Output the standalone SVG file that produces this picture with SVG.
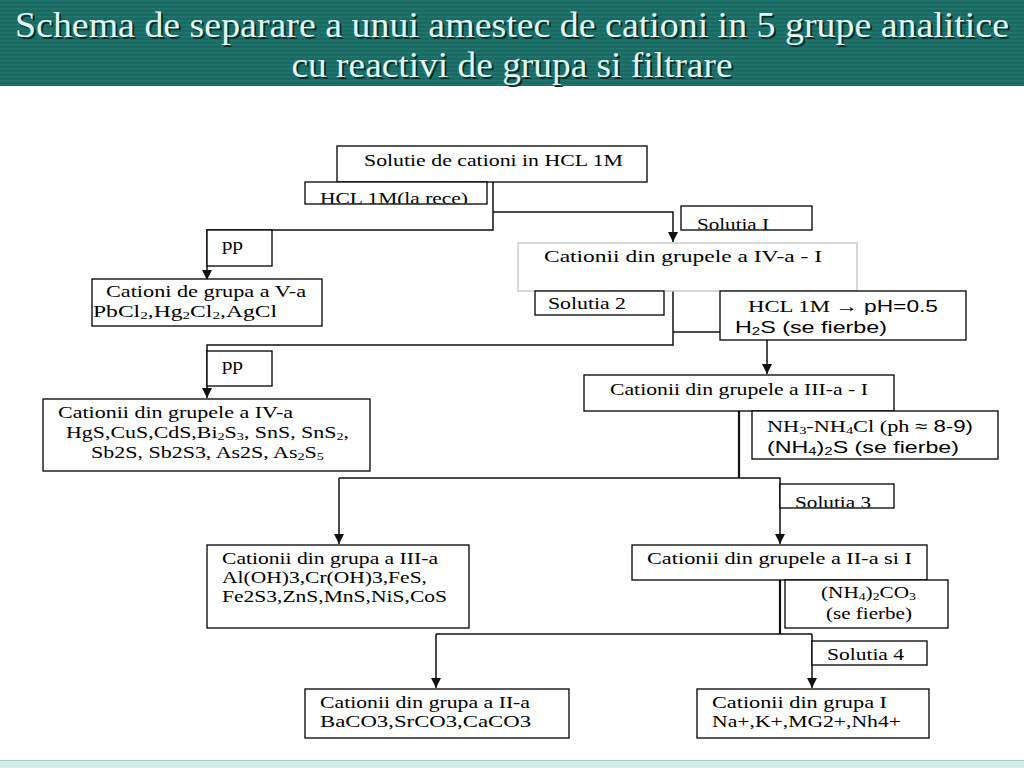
<svg xmlns="http://www.w3.org/2000/svg" width="1024" height="768" viewBox="0 0 1024 768">
<style>
.box{fill:#fff;stroke:#000;stroke-width:1.3}
.gbox{fill:#fff;stroke:#c4c4c4;stroke-width:1.3}
.t{font-family:"Liberation Serif","Times New Roman",serif;font-size:17px;fill:#000}
.s{font-family:"Liberation Sans",Arial,sans-serif}
.sub{font-size:11px}
.c{fill:none;stroke:#111;stroke-width:1.5}
.ck{fill:none;stroke:#111;stroke-width:2.2}
.ttl{font-family:"Liberation Serif","Times New Roman",serif;font-size:36px;fill:#e2f7f2}
.tsh{font-family:"Liberation Serif","Times New Roman",serif;font-size:36px;fill:#062e2a}
</style>
<defs>
<pattern id="stripes" width="4" height="4" patternUnits="userSpaceOnUse">
<rect width="4" height="4" fill="#1a6962"/>
<rect y="0" width="4" height="1.5" fill="#21756d"/>
</pattern>
<marker id="ar" markerUnits="userSpaceOnUse" markerWidth="10" markerHeight="10" refX="10" refY="5" orient="auto">
<path d="M0,0 L10,5 L0,10 z" fill="#111"/>
</marker>
<clipPath id="cl1"><rect x="305" y="182" width="182" height="21.5"/></clipPath>
<clipPath id="cl2"><rect x="681" y="206" width="131" height="23.5"/></clipPath>
<clipPath id="cl3"><rect x="780" y="484" width="114" height="23.5"/></clipPath>
</defs>
<rect width="1024" height="768" fill="#fff"/>
<g id="title">
<rect x="0" y="0" width="1024" height="86" fill="url(#stripes)"/>
<text class="tsh" x="514" y="39" text-anchor="middle" textLength="994" lengthAdjust="spacingAndGlyphs">Schema de separare a unui amestec de cationi in 5 grupe analitice</text>
<text class="ttl" x="512" y="37" text-anchor="middle" textLength="994" lengthAdjust="spacingAndGlyphs">Schema de separare a unui amestec de cationi in 5 grupe analitice</text>
<text class="tsh" x="514" y="79" text-anchor="middle" textLength="441" lengthAdjust="spacingAndGlyphs">cu reactivi de grupa si filtrare</text>
<text class="ttl" x="512" y="77" text-anchor="middle" textLength="441" lengthAdjust="spacingAndGlyphs">cu reactivi de grupa si filtrare</text>
</g>
<rect x="0" y="760" width="1024" height="8" fill="#d6ecea"/>
<line x1="0" y1="760.5" x2="1024" y2="760.5" stroke="#9ccbc5" stroke-width="1"/>

<g id="connectors">
<polyline class="c" points="493,182 493,230 207,230 207,280" marker-end="url(#ar)"/>
<polyline class="c" points="493,212 673,212 673,242" marker-end="url(#ar)"/>
<polyline class="c" points="673,291 673,345 207,345 207,398" marker-end="url(#ar)"/>
<line class="c" x1="673" y1="332" x2="720" y2="332"/>
<line class="c" x1="767" y1="340" x2="767" y2="374" marker-end="url(#ar)"/>
<line class="ck" x1="739" y1="411" x2="739" y2="478"/>
<polyline class="c" points="339,478 780,478 780,544" marker-end="url(#ar)"/>
<line class="c" x1="339" y1="478" x2="339" y2="544" marker-end="url(#ar)"/>
<line class="ck" x1="780" y1="580" x2="780" y2="634"/>
<polyline class="c" points="436,634 812,634"/>
<line class="c" x1="436" y1="634" x2="436" y2="688" marker-end="url(#ar)"/>
<line class="c" x1="812" y1="634" x2="812" y2="688" marker-end="url(#ar)"/>
</g>

<g id="n-solutie">
<rect class="box" x="337" y="146" width="310" height="36"/>
<text class="t" x="364" y="166" textLength="259" lengthAdjust="spacingAndGlyphs">Solutie de cationi in HCL 1M</text>
</g>
<g id="n-hcl-rece">
<rect class="box" x="305" y="182" width="182" height="22"/>
<text class="t" x="320" y="204" textLength="148" lengthAdjust="spacingAndGlyphs" clip-path="url(#cl1)">HCL 1M(la rece)</text>
</g>
<g id="n-solutia1">
<rect class="box" x="681" y="206" width="131" height="24"/>
<text class="t" x="697" y="230" textLength="72" lengthAdjust="spacingAndGlyphs" clip-path="url(#cl2)">Solutia I</text>
</g>
<g id="n-pp1">
<rect class="box" x="207" y="230" width="65" height="36"/>
<text class="t" x="222" y="250" textLength="21" lengthAdjust="spacingAndGlyphs">pp</text>
</g>
<g id="n-iv-i">
<rect class="gbox" x="518" y="243" width="339" height="48"/>
<text class="t" x="544" y="262" textLength="278" lengthAdjust="spacingAndGlyphs">Cationii din grupele a IV-a - I</text>
</g>
<g id="n-v">
<rect class="box" x="92" y="279" width="230" height="47"/>
<text class="t" x="106" y="297" textLength="200" lengthAdjust="spacingAndGlyphs">Cationi de grupa a V-a</text>
<text class="t" x="93" y="317" textLength="184" lengthAdjust="spacingAndGlyphs">PbCl<tspan class="sub" dy="2">2</tspan><tspan dy="-2">,Hg</tspan><tspan class="sub" dy="2">2</tspan><tspan dy="-2">Cl</tspan><tspan class="sub" dy="2">2</tspan><tspan dy="-2">,AgCl</tspan></text>
</g>
<g id="n-solutia2">
<rect class="box" x="535" y="291" width="129" height="24"/>
<text class="t" x="548" y="309" textLength="78" lengthAdjust="spacingAndGlyphs">Solutia 2</text>
</g>
<g id="n-hcl-ph">
<rect class="box" x="720" y="291" width="246" height="49"/>
<text class="t" x="748" y="312" textLength="190" lengthAdjust="spacingAndGlyphs">HCL 1M → <tspan class="s">pH=0.5</tspan></text>
<text class="t s" x="735" y="333" textLength="152" lengthAdjust="spacingAndGlyphs">H<tspan class="sub" dy="2">2</tspan><tspan dy="-2">S (se fierbe)</tspan></text>
</g>
<g id="n-pp2">
<rect class="box" x="207" y="351" width="65" height="35"/>
<text class="t" x="222" y="370" textLength="21" lengthAdjust="spacingAndGlyphs">pp</text>
</g>
<g id="n-iii-i">
<rect class="box" x="584" y="375" width="310" height="36"/>
<text class="t" x="610" y="395" textLength="258" lengthAdjust="spacingAndGlyphs">Cationii din grupele a III-a - I</text>
</g>
<g id="n-iv">
<rect class="box" x="43" y="399" width="327" height="72"/>
<text class="t" x="58" y="418" textLength="235" lengthAdjust="spacingAndGlyphs">Cationii din grupele a IV-a</text>
<text class="t" x="66" y="438" textLength="283" lengthAdjust="spacingAndGlyphs">HgS,CuS,CdS,Bi<tspan class="sub" dy="2">2</tspan><tspan dy="-2">S</tspan><tspan class="sub" dy="2">3</tspan><tspan dy="-2">, SnS, SnS</tspan><tspan class="sub" dy="2">2</tspan><tspan dy="-2">,</tspan></text>
<text class="t" x="91" y="458" textLength="233" lengthAdjust="spacingAndGlyphs">Sb2S, Sb2S3, As2S, As<tspan class="sub" dy="2">2</tspan><tspan dy="-2">S</tspan><tspan class="sub" dy="2">5</tspan></text>
</g>
<g id="n-nh3">
<rect class="box" x="752" y="411" width="246" height="48"/>
<text class="t" x="767" y="432" textLength="206" lengthAdjust="spacingAndGlyphs">NH<tspan class="sub" dy="2">3</tspan><tspan dy="-2">-NH</tspan><tspan class="sub" dy="2">4</tspan><tspan dy="-2">Cl (ph </tspan><tspan class="s">≈ 8-9)</tspan></text>
<text class="t s" x="767" y="453" textLength="192" lengthAdjust="spacingAndGlyphs">(NH<tspan class="sub" dy="2">4</tspan><tspan dy="-2">)</tspan><tspan class="sub" dy="2">2</tspan><tspan dy="-2">S (se fierbe)</tspan></text>
</g>
<g id="n-solutia3">
<rect class="box" x="780" y="484" width="114" height="24"/>
<text class="t" x="795" y="508" textLength="76" lengthAdjust="spacingAndGlyphs" clip-path="url(#cl3)">Solutia 3</text>
</g>
<g id="n-iii">
<rect class="box" x="207" y="545" width="262" height="83"/>
<text class="t" x="222" y="564" textLength="216" lengthAdjust="spacingAndGlyphs">Cationii din grupa a III-a</text>
<text class="t" x="222" y="583" textLength="205" lengthAdjust="spacingAndGlyphs">Al(OH)3,Cr(OH)3,FeS,</text>
<text class="t" x="222" y="602" textLength="225" lengthAdjust="spacingAndGlyphs">Fe2S3,ZnS,MnS,NiS,CoS</text>
</g>
<g id="n-ii-i">
<rect class="box" x="632" y="545" width="295" height="35"/>
<text class="t" x="647" y="564" textLength="265" lengthAdjust="spacingAndGlyphs">Cationii din grupele a II-a si I</text>
</g>
<g id="n-nh4co3">
<rect class="box" x="785" y="580" width="163" height="48"/>
<text class="t" x="821" y="598" textLength="95" lengthAdjust="spacingAndGlyphs">(NH<tspan class="sub" dy="2">4</tspan><tspan dy="-2">)</tspan><tspan class="sub" dy="2">2</tspan><tspan dy="-2">CO</tspan><tspan class="sub" dy="2">3</tspan></text>
<text class="t" x="826" y="619" textLength="86" lengthAdjust="spacingAndGlyphs">(se fierbe)</text>
</g>
<g id="n-solutia4">
<rect class="box" x="812" y="641" width="115" height="24"/>
<text class="t" x="827" y="660" textLength="77" lengthAdjust="spacingAndGlyphs">Solutia 4</text>
</g>
<g id="n-ii">
<rect class="box" x="305" y="689" width="264" height="49"/>
<text class="t" x="320" y="708" textLength="210" lengthAdjust="spacingAndGlyphs">Cationii din grupa a II-a</text>
<text class="t" x="320" y="727" textLength="211" lengthAdjust="spacingAndGlyphs">BaCO3,SrCO3,CaCO3</text>
</g>
<g id="n-i">
<rect class="box" x="697" y="689" width="232" height="49"/>
<text class="t" x="712" y="708" textLength="175" lengthAdjust="spacingAndGlyphs">Cationii din grupa I</text>
<text class="t" x="712" y="727" textLength="189" lengthAdjust="spacingAndGlyphs">Na+,K+,MG2+,Nh4+</text>
</g>
</svg>
